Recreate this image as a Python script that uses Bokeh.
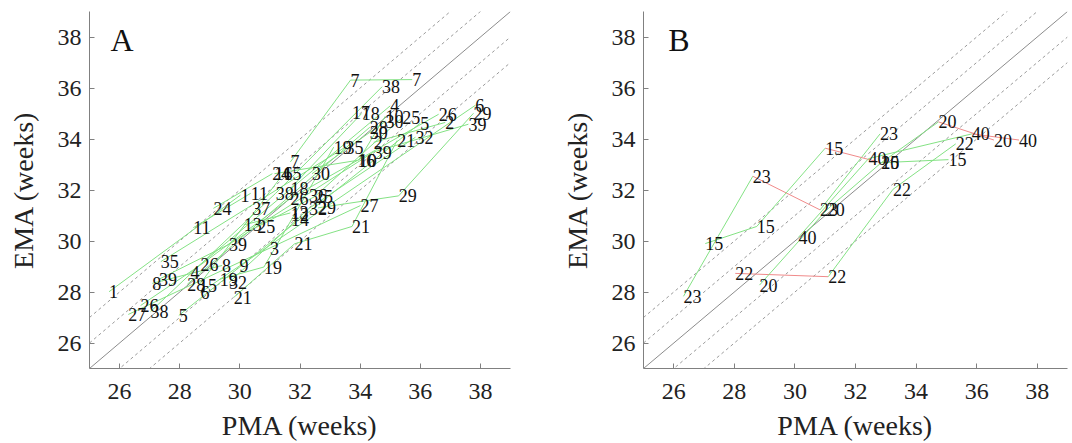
from bokeh.plotting import figure
from bokeh.layouts import row
from bokeh.models import FixedTicker, Label, ColumnDataSource
from bokeh.core.properties import value
from bokeh.embed import file_html
from bokeh.resources import INLINE

# ---------------- data ----------------
ticks = [26, 28, 30, 32, 34, 36, 38]
axis_min, axis_max = 25, 39
diag_offsets = [-2, -1, 1, 2]

# Panel A: subject id, PMA (weeks), EMA (weeks)
a_ids = ["1", "1", "11", "11", "24", "24", "35", "35", "8", "8",
         "39", "39", "39", "39", "26", "26", "26", "26", "27", "27",
         "38", "38", "38", "5", "5", "4", "4", "28", "28", "15", "15",
         "6", "6", "19", "19", "19", "32", "32", "32", "21", "21", "21", "21",
         "9", "13", "13", "25", "25", "25", "37", "3", "12", "14",
         "7", "7", "7", "16", "16", "10", "10", "18", "18", "17",
         "30", "30", "30", "36", "29", "29", "29", "2", "2"]
a_pma = [25.65, 30.02, 28.45, 30.36, 29.12, 31.08, 27.37, 33.51, 27.09, 29.41,
         27.31, 29.64, 34.45, 37.60, 26.70, 28.69, 31.68, 36.61, 26.29, 34.01,
         27.03, 31.19, 34.73, 27.97, 36.00, 28.36, 35.00, 28.25, 34.32, 28.64, 31.45,
         28.69, 37.83, 29.33, 30.80, 33.12, 29.64, 32.30, 35.84, 29.80, 31.82, 33.73, 35.23,
         29.99, 30.13, 31.68, 30.58, 32.50, 35.40, 30.41, 31.00, 31.70, 31.70,
         31.68, 33.68, 35.73, 31.15, 33.90, 33.95, 34.84, 31.68, 34.05, 33.73,
         32.40, 34.32, 34.84, 32.30, 32.60, 35.28, 37.77, 34.45, 36.83]
a_ema = [28.01, 31.80, 30.52, 31.87, 31.28, 32.64, 29.19, 33.68, 28.34, 29.04,
         28.50, 29.87, 33.49, 34.58, 27.47, 29.06, 31.67, 34.97, 27.12, 31.39,
         27.23, 31.87, 36.05, 27.08, 34.62, 28.76, 35.30, 28.30, 34.46, 28.27, 32.64,
         27.98, 35.32, 28.50, 28.98, 33.68, 28.37, 31.28, 34.07, 27.79, 29.89, 30.57, 33.94,
         29.04, 30.63, 31.10, 30.55, 31.75, 34.84, 31.26, 29.70, 31.05, 30.83,
         33.10, 36.31, 36.33, 32.64, 33.16, 33.16, 34.90, 32.06, 35.00, 35.02,
         32.64, 34.26, 34.69, 31.80, 31.30, 31.77, 35.01, 33.87, 34.65]

# Panel B
b_ids = ["23", "23", "23", "23", "15", "15", "15", "15", "15",
         "22", "22", "22", "22", "20", "20", "20", "20", "20",
         "40", "40", "40", "40"]
b_pma = [26.32, 28.61, 30.83, 32.81, 27.04, 28.74, 31.00, 32.85, 35.07,
         28.03, 31.10, 33.24, 35.31, 28.83, 31.05, 32.85, 34.74, 36.57,
         30.12, 32.43, 35.84, 37.40]
b_ema = [27.83, 32.54, 31.22, 34.20, 29.90, 30.57, 33.64, 33.07, 33.19,
         28.73, 28.60, 32.03, 33.81, 28.27, 31.22, 33.07, 34.67, 33.96,
         30.15, 33.23, 34.20, 33.96]

GREEN = "#84e284"
RED = "#f08a8a"
SERIF = "Liberation Serif"


def make_panel(ids, pma, ema, letter, letter_x, width, border_left, border_right):
    p = figure(width=width, height=443, x_range=(axis_min, axis_max),
               y_range=(axis_min, axis_max), output_backend="svg",
               toolbar_location=None, min_border_left=border_left,
               min_border_right=border_right, min_border_top=11,
               min_border_bottom=71)
    p.outline_line_color = None
    p.xgrid.visible = False
    p.ygrid.visible = False
    p.background_fill_color = "white"
    p.border_fill_color = "white"

    # reference lines
    p.line([axis_min, axis_max], [axis_min, axis_max], line_color="#8c8c8c",
           line_width=1)
    for off in diag_offsets:
        p.line([axis_min, axis_max], [axis_min + off, axis_max + off],
               line_color="#9a9a9a", line_width=1, line_dash="3 3")

    # trajectories
    x0, y0, x1, y1, cols = [], [], [], [], []
    groups = {}
    for i, s in enumerate(ids):
        groups.setdefault(s, []).append((pma[i], ema[i]))
    for s, pts in groups.items():
        pts = sorted(pts)
        for (xa, ya), (xb, yb) in zip(pts[:-1], pts[1:]):
            x0.append(xa); y0.append(ya); x1.append(xb); y1.append(yb)
            cols.append(GREEN if yb >= ya else RED)
    seg = ColumnDataSource(dict(x0=x0, y0=y0, x1=x1, y1=y1, c=cols))
    p.segment("x0", "y0", "x1", "y1", source=seg, line_color="c", line_width=1)

    src = ColumnDataSource(dict(x=pma, y=ema, t=ids))
    p.text("x", "y", "t", source=src, text_font=value(SERIF),
           text_font_size="18px", text_align="left", text_baseline="middle",
           text_color="#111111")

    p.add_layout(Label(x=letter_x, y=37.9, text=letter, text_font=SERIF,
                       text_font_size="32px", text_color="#111111",
                       text_baseline="alphabetic"))

    for ax in (p.xaxis, p.yaxis):
        ax.ticker = FixedTicker(ticks=ticks)
        ax.major_tick_in = 5
        ax.major_tick_out = 0
        ax.minor_tick_in = 0
        ax.minor_tick_out = 0
        ax.axis_line_color = "#808080"
        ax.major_tick_line_color = "#808080"
        ax.major_label_text_font = SERIF
        ax.major_label_text_font_size = "24px"
        ax.major_label_text_color = "#222222"
        ax.axis_label_text_font = SERIF
        ax.axis_label_text_font_size = "28px"
        ax.axis_label_text_font_style = "normal"
        ax.axis_label_text_color = "#222222"
    p.xaxis.major_label_standoff = 15
    p.xaxis.axis_label_standoff = 8
    p.yaxis.major_label_standoff = 8
    p.yaxis.axis_label_standoff = 16
    p.xaxis.axis_label = "PMA (weeks)"
    p.yaxis.axis_label = "EMA (weeks)"
    p.yaxis.major_label_orientation = "horizontal"
    return p


pA = make_panel(a_ids, a_pma, a_ema, "A", 25.70, 530, 89, 20)
pB = make_panel(b_ids, b_pma, b_ema, "B", 25.82, 539, 113, 2)

layout = row(pA, pB)
open("out.html", "w").write(file_html(layout, INLINE))
